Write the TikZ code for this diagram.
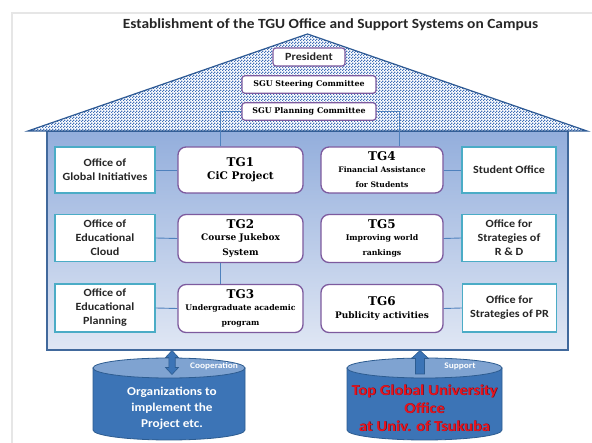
\documentclass[tikz,border=0pt]{standalone}
\usepackage{fontspec}
\setmainfont{Carlito}[FakeStretch=1.1]
\newfontfamily\tgfont{DejaVu Serif}
\usetikzlibrary{patterns.meta}
\definecolor{roofblue}{HTML}{3F6FB8}
\definecolor{roofedge}{HTML}{2E5A94}
\definecolor{bodytop}{HTML}{93AEDC}
\definecolor{bodybot}{HTML}{E0E7F4}
\definecolor{bodyedge}{HTML}{41699C}
\definecolor{purp}{HTML}{7D5A9E}
\definecolor{cyanb}{HTML}{4BACC6}
\definecolor{linkblue}{HTML}{4F81BD}
\definecolor{cylbody}{HTML}{3C74B6}
\definecolor{cyltop}{HTML}{7FA3D1}
\definecolor{cyledge}{HTML}{2D5C90}
\definecolor{redtxt}{HTML}{E8141E}
\definecolor{redshadow}{HTML}{5A1020}
\definecolor{framegray}{HTML}{E6E6E6}
\tikzdeclarepattern{
  name=roofpat, type=uncolored,
  bounding box={(0pt,0pt) and (3pt,3pt)},
  tile size={(3pt,3pt)},
  code={
    \fill (0pt,0pt) rectangle (1.5pt,1.5pt);
    \fill (1.5pt,1.5pt) rectangle (3pt,3pt);
  }
}
\newcommand{\tghead}{\fontsize{12}{14}\selectfont}
\newcommand{\tgsz}[1]{\fontsize{#1}{#1}\selectfont}
\tikzset{
  office/.style={draw=cyanb, line width=1.4pt, fill=white, align=center,
    font=\fontsize{11}{14}\selectfont\bfseries, inner sep=0pt, text=black!85},
  tgbox/.style={draw=purp, line width=1.3pt, fill=white, rounded corners=8pt,
    align=center, inner sep=0pt, font=\tgfont\bfseries},
  comm/.style={draw=purp, line width=1.1pt, fill=white, rounded corners=3pt,
    align=center, inner sep=0pt},
  link/.style={draw=linkblue, line width=0.9pt},
  cyl/.style={fill=cylbody, draw=cyledge, line width=0.8pt},
  cyltopst/.style={fill=cyltop, draw=cyledge, line width=0.8pt},
  barrow/.style={fill=cylbody, draw=cyledge, line width=0.6pt},
  smalllbl/.style={text=white, font=\fontsize{8.5}{10}\selectfont\bfseries},
}
\begin{document}
\begin{tikzpicture}[x=1pt, y=-1pt]
\useasboundingbox (0,0) rectangle (592,443);
% frame
\draw[framegray, line width=1.5pt] (12,443) -- (12,13) -- (592,13);
% title
\node[font=\fontsize{14}{16}\selectfont\bfseries, text=black!85] (title) at (330.5,25)
  {Establishment of the TGU Office and Support Systems on Campus};
% body
\shade[top color=bodytop, bottom color=bodybot] (47,131) rectangle (568,350);
\draw[bodyedge, line width=1.6pt] (47,131) rectangle (568,350);
% roof
\fill[white] (28,131) -- (307.5,34) -- (587,131) -- cycle;
\fill[pattern=roofpat, pattern color=roofblue] (28,131) -- (307.5,34) -- (587,131) -- cycle;
\draw[roofedge, line width=1.2pt, line join=miter] (28,131) -- (307.5,34) -- (587,131) -- cycle;
% committees
\node[comm, minimum width=72pt, minimum height=18pt, font=\fontsize{11}{12}\selectfont\bfseries, text=black!85] (pres) at (309,57) {President};
\node[comm, minimum width=134pt, minimum height=17.5pt, font=\tgfont\bfseries\fontsize{7.9}{10}\selectfont] (steer) at (309,84.5) {SGU Steering Committee};
\node[comm, minimum width=134pt, minimum height=17.5pt, font=\tgfont\bfseries\fontsize{7.9}{10}\selectfont] (plan) at (309,111.5) {SGU Planning Committee};
% offices left
\node[office, minimum width=100pt, minimum height=46pt] (o1) at (105,170) {Office of\\Global Initiatives};
\node[office, minimum width=100pt, minimum height=47pt] (o2) at (105,238) {Office of\\Educational\\Cloud};
\node[office, minimum width=100pt, minimum height=48pt] (o3) at (105,308) {Office of\\Educational\\Planning};
% offices right
\node[office, minimum width=94pt, minimum height=46pt] (o4) at (509,170) {Student Office};
\node[office, minimum width=94pt, minimum height=47pt] (o5) at (509,238) {Office for\\Strategies of\\R \& D};
\node[office, minimum width=94pt, minimum height=48pt] (o6) at (509.5,308) {Office for\\Strategies of PR};
% TG boxes
\node[tgbox, minimum width=125pt, minimum height=46pt] (tg1) at (240.5,170)
  {\tghead TG1\\[1pt]\tgsz{10.5}CiC Project};
\node[tgbox, minimum width=125pt, minimum height=48pt] (tg2) at (240.5,238.5)
  {\tghead TG2\\\tgsz{9}Course Jukebox\\[3pt]\tgsz{9}System};
\node[tgbox, minimum width=125pt, minimum height=48pt] (tg3) at (240.5,308.5)
  {\tghead TG3\\\tgsz{7.8}Undergraduate academic\\[3pt]\tgsz{7.8}program};
\node[tgbox, minimum width=122pt, minimum height=46pt] (tg4) at (382,170)
  {\tghead TG4\\\tgsz{7.6}Financial Assistance\\[3pt]\tgsz{7.6}for Students};
\node[tgbox, minimum width=122pt, minimum height=48pt] (tg5) at (382,238.5)
  {\tghead TG5\\\tgsz{7.8}Improving world\\[3pt]\tgsz{7.8}rankings};
\node[tgbox, minimum width=122pt, minimum height=48pt] (tg6) at (382,308.5)
  {\tghead TG6\\[1pt]\tgsz{9}Publicity activities};
% connectors
\draw[link] (o1.east) -- (tg1.west);
\draw[link] (o2.east) -- (tg2.west);
\draw[link] (o3.east) -- (tg3.west);
\draw[link] (tg4.east) -- (o4.west);
\draw[link] (tg5.east) -- (o5.west);
\draw[link] (tg6.east) -- (o6.west);
\coordinate (j1) at (220,111.5);
\coordinate (j2) at (399,111.5);
\draw[link] (plan.west) -- (j1) -- (j1 |- tg1.north);
\draw[link] (plan.east) -- (j2) -- (j2 |- tg4.north);
\draw[link] (j1 |- tg2.south) -- (j1 |- tg3.north);
% cylinders
\filldraw[cyl] (93,368) -- (93,430) arc[start angle=180, end angle=0, x radius=76, y radius=10] -- (245,368) -- cycle;
\filldraw[cyltopst] (169,368) ellipse[x radius=76, y radius=10];
\filldraw[cyl] (347,368) -- (347,430) arc[start angle=180, end angle=0, x radius=77.5, y radius=10] -- (502,368) -- cycle;
\filldraw[cyltopst] (424.5,368) ellipse[x radius=77.5, y radius=10];
\node[align=center, text=white, font=\fontsize{12}{16}\selectfont\bfseries] (org) at (172,408) {Organizations to\\implement the\\Project etc.};
\node[align=center, text=redshadow, font=\fontsize{15}{18}\selectfont\bfseries] (tgush) at (425.1,408.6) {Top Global University\\Office\\at Univ. of Tsukuba};
\node[align=center, text=redtxt, font=\fontsize{15}{18}\selectfont\bfseries] (tgu) at (424.5,408) {Top Global University\\Office\\at Univ. of Tsukuba};
% arrows
\coordinate (a1) at (172,350.5);
\filldraw[barrow] (a1) -- ++(6.5,7) -- ++(-3.3,0) -- ++(0,10) -- ++(3.3,0) -- ++(-6.5,7) -- ++(-6.5,-7) -- ++(3.3,0) -- ++(0,-10) -- ++(-3.3,0) -- cycle;
\coordinate (a2) at (420,350.5);
\filldraw[barrow] (a2) -- ++(8.5,8) -- ++(-4,0) -- ++(0,15.5) -- ++(-9,0) -- ++(0,-15.5) -- ++(-4,0) -- cycle;
\node[smalllbl] (coop) at (214,366) {Cooperation};
\node[smalllbl] (supp) at (460,366) {Support};
\end{tikzpicture}
\end{document}
